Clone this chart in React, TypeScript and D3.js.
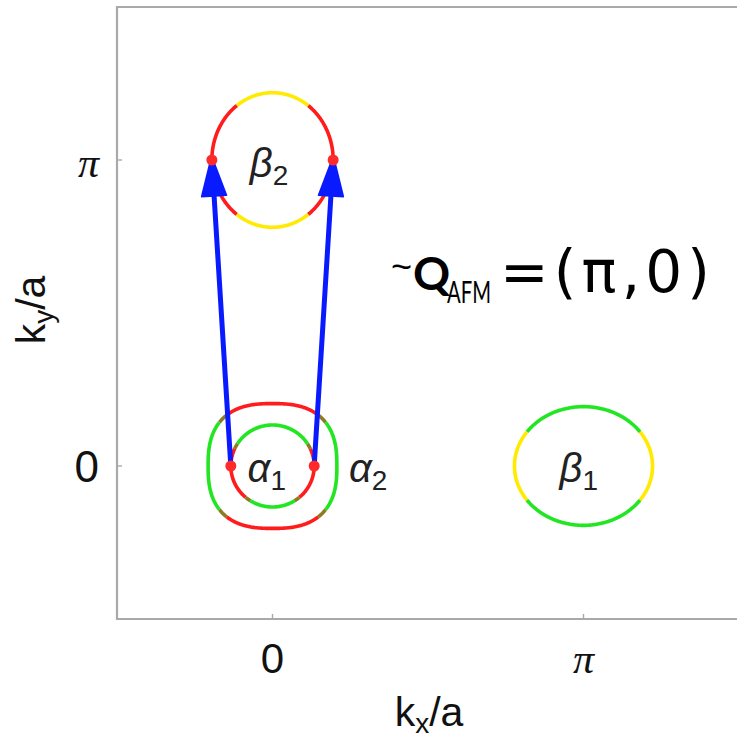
import React from "react";
import * as d3 from "d3";

const W = 737;
const H = 741;

// Brillouin-zone window, momenta in units of π/a
const kxDomain = [-0.5, 1.5];
const kyDomain = [-0.5, 1.5];
const tickValues = [0, 1];
const tickLabels = ["0", "π"];

// Fermi pockets: centre, semi-axes (units of π), superellipse exponent
const pocketNames = ["β", "α", "α", "β"];
const pocketIndices = ["2", "1", "2", "1"];
const pocketCenters: [number, number][] = [[0, 1], [0, 0], [0, 0], [1, 0]];
const pocketRadii: [number, number][] = [[0.195, 0.22], [0.134, 0.134], [0.207, 0.204], [0.222, 0.194]];
const pocketExponents = [2, 2, 2.6, 2];

// Orbital character along each pocket: [from°, to°, orbital]
const pocketSegments: [number, number, string][][] = [
  [[-54, 54, "red"], [54, 126, "yellow"], [126, 234, "red"], [234, 306, "yellow"]],
  [[-50, 25, "red"], [25, 33, "mix"], [33, 147, "green"], [147, 155, "mix"], [155, 230, "red"], [230, 238, "mix"], [238, 302, "green"], [302, 310, "mix"]],
  [[-39, 39, "green"], [39, 50, "mix"], [50, 130, "red"], [130, 141, "mix"], [141, 219, "green"], [219, 230, "mix"], [230, 310, "red"], [310, 321, "mix"]],
  [[-35, 35, "yellow"], [35, 145, "green"], [145, 215, "yellow"], [215, 325, "green"]],
];

// Nesting vectors: from (pocket, angle°) to (pocket, angle°)
const nestingFrom: [number, number][] = [[1, 180], [1, 0]];
const nestingTo: [number, number][] = [[0, 180], [0, 0]];

const orbitalColors: Record<string, string> = {
  red: "#ff1c1c",
  green: "#22e622",
  yellow: "#ffea00",
  mix: "#8c7c22",
};

function pocketPoint(i: number, deg: number): [number, number] {
  const t = (deg * Math.PI) / 180;
  const e = 2 / pocketExponents[i];
  const c = Math.cos(t);
  const s = Math.sin(t);
  return [
    pocketCenters[i][0] + pocketRadii[i][0] * Math.sign(c) * Math.abs(c) ** e,
    pocketCenters[i][1] + pocketRadii[i][1] * Math.sign(s) * Math.abs(s) ** e,
  ];
}

export default function App() {
  const x = d3.scaleLinear().domain(kxDomain).range([117, 739]);
  const y = d3.scaleLinear().domain(kyDomain).range([619, 7]);
  const line = d3
    .line<[number, number]>()
    .x((d) => x(d[0]))
    .y((d) => y(d[1]));

  const segPaths: { d: string; color: string; key: string }[] = [];
  pocketSegments.forEach((segs, i) => {
    segs.forEach(([a0, a1, orb], j) => {
      const pts = d3.range(a0, a1 + 0.001, 1).map((a) => pocketPoint(i, a));
      segPaths.push({ d: line(pts) || "", color: orbitalColors[orb], key: `${i}-${j}` });
    });
  });

  const arrows = nestingFrom.map(([pi, pa], k) => {
    const [p0x, p0y] = pocketPoint(pi, pa);
    const [p1x, p1y] = pocketPoint(nestingTo[k][0], nestingTo[k][1]);
    const x1 = x(p0x), y1 = y(p0y), x2 = x(p1x), y2 = y(p1y);
    const len = Math.hypot(x2 - x1, y2 - y1);
    const ux = (x2 - x1) / len, uy = (y2 - y1) / len;
    const headL = 36, headW = 12.5;
    const bx = x2 - ux * headL, by = y2 - uy * headL;
    const head = `M${x2 + ux * 4},${y2 + uy * 4} L${bx - uy * headW},${by + ux * headW} L${bx + uy * headW},${by - ux * headW} Z`;
    return { x1, y1, x2: bx + ux * 4, y2: by + uy * 4, head, key: k };
  });

  const dots = [...nestingFrom, ...nestingTo].map(([pi, pa]) => pocketPoint(pi, pa));

  // label anchors in units of π
  const labelAnchors: [number, number][] = [[-0.073, 0.944], [-0.08, -0.052], [0.246, -0.052], [0.923, -0.052]];

  const axisGray = "#a9a9a9";
  const sans = "Liberation Sans, Arial, sans-serif";

  return (
    <div style={{ position: "absolute", left: 0, top: 0 }}>
      <svg width={W} height={H} style={{ display: "block", background: "#fff" }}>
        <rect width={W} height={H} fill="#fff" />
        {/* frame */}
        <path d={`M${x(1.5)},${y(1.5)} H${x(-0.5)} V${y(-0.5)} H${x(1.5)}`} fill="none" stroke={axisGray} strokeWidth={2.2} />
        {tickValues.map((v) => (
          <g key={`t${v}`} stroke={axisGray} strokeWidth={1.4}>
            <line x1={x(-0.5)} x2={x(-0.5) + 5} y1={y(v)} y2={y(v)} />
            <line x1={x(v)} x2={x(v)} y1={y(-0.5)} y2={y(-0.5) - 5} />
          </g>
        ))}
        {tickValues.map((v, i) => (
          <text
            key={`yl${v}`}
            x={99}
            y={y(v) + (i === 0 ? 16 : 17)}
            textAnchor="end"
            fontFamily={i === 0 ? sans : "Liberation Serif, serif"}
            fontStyle={i === 0 ? "normal" : "italic"}
            fontSize={i === 0 ? 44 : 42}
            fill="#111"
          >
            {tickLabels[i]}
          </text>
        ))}
        {tickValues.map((v, i) => (
          <text
            key={`xl${v}`}
            x={x(v)}
            y={673}
            textAnchor="middle"
            fontFamily={i === 0 ? sans : "Liberation Serif, serif"}
            fontStyle={i === 0 ? "normal" : "italic"}
            fontSize={42}
            fill="#111"
          >
            {tickLabels[i]}
          </text>
        ))}
        {/* axis titles */}
        <text x={429} y={726} textAnchor="middle" fontFamily={sans} fontSize={41} fill="#111">
          k<tspan fontSize={28} dy={7}>x</tspan>
          <tspan dy={-7}>/a</tspan>
        </text>
        <text transform="translate(45,310) rotate(-90)" textAnchor="middle" fontFamily={sans} fontSize={41} fill="#111">
          k<tspan fontSize={28} dy={8}>y</tspan>
          <tspan dy={-8}>/a</tspan>
        </text>

        {/* Fermi pockets */}
        <g fill="none" strokeWidth={3.6} strokeLinejoin="round">
          {segPaths.map((s) => (
            <path key={s.key} d={s.d} stroke={s.color} />
          ))}
        </g>

        {/* nesting vectors */}
        {arrows.map((a) => (
          <g key={a.key}>
            <line x1={a.x1} y1={a.y1} x2={a.x2} y2={a.y2} stroke="#0a1aff" strokeWidth={5} strokeLinecap="round" />
            <path d={a.head} fill="#0a1aff" stroke="#0a1aff" strokeWidth={1.5} strokeLinejoin="round" />
          </g>
        ))}
        {dots.map(([dx, dy], k) => (
          <circle key={`d${k}`} cx={x(dx)} cy={y(dy)} r={5.5} fill="#ff2a2a" />
        ))}

        {/* pocket labels */}
        {pocketNames.map((n, i) => (
          <text
            key={`pl${i}`}
            x={x(labelAnchors[i][0])}
            y={y(labelAnchors[i][1])}
            fontFamily={sans}
            fontStyle="italic"
            fontSize={40}
            fill="#222"
          >
            {n}
            <tspan fontStyle="normal" fontSize={28} dy={8}>
              {pocketIndices[i]}
            </tspan>
          </text>
        ))}

        {/* nesting wave vector */}
        <g fill="#000" fontFamily="Lato, Open Sans, sans-serif">
          <text x={391} y={279} fontSize={36} fontFamily={sans}>~</text>
          <text x={413} y={290} fontSize={46} fontWeight="bold">Q</text>
          <text x={447} y={303} fontSize={31} textLength={44} lengthAdjust="spacingAndGlyphs">AFM</text>
          <text x={500} y={292} fontSize={58} fontFamily="DejaVu Sans, sans-serif" textLength={210} lengthAdjust="spacing">
            =(π,0)
          </text>
        </g>
      </svg>
    </div>
  );
}
